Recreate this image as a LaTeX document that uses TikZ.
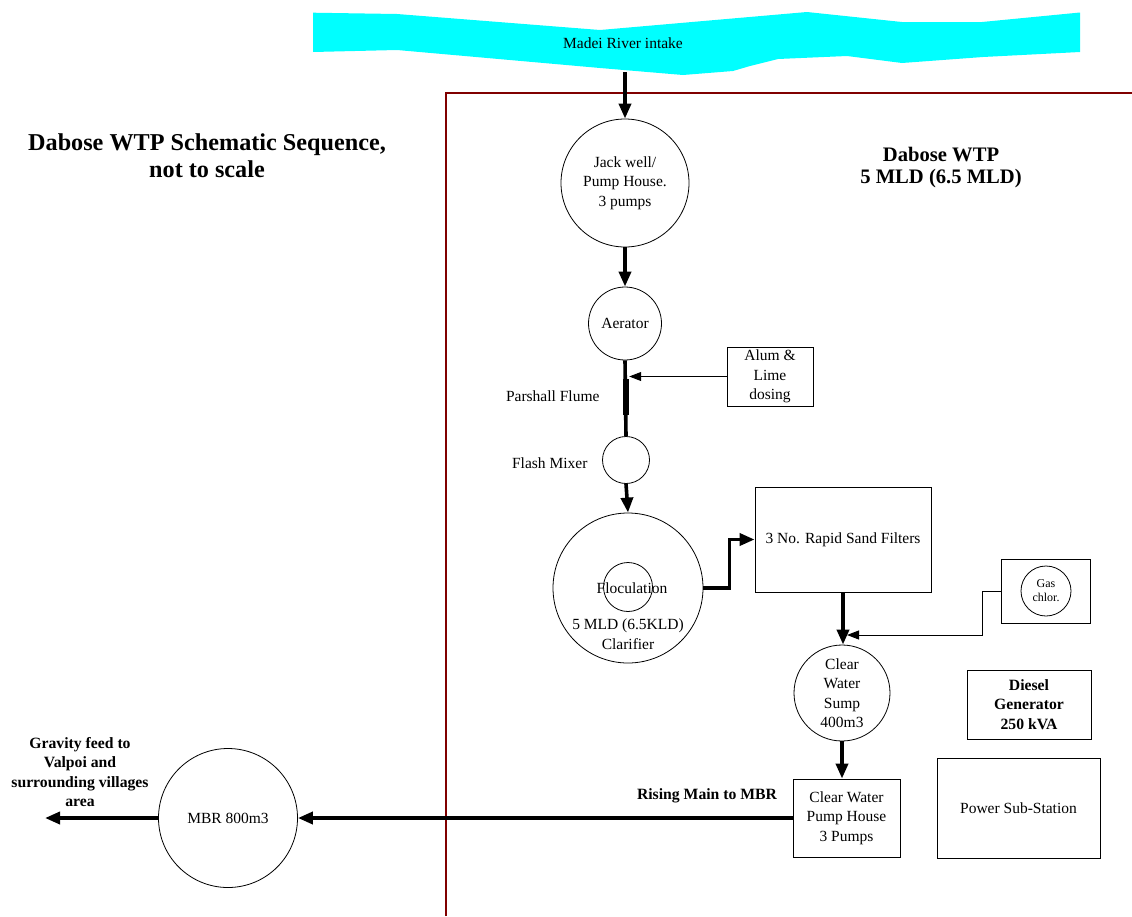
\documentclass[tikz,border=0pt]{standalone}
\usepackage{fontspec}
\setmainfont{Liberation Serif}
\usetikzlibrary{arrows.meta}
\definecolor{rivercyan}{RGB}{0,255,255}
\definecolor{borderred}{RGB}{128,0,0}
\begin{document}
\begin{tikzpicture}[x=1pt,y=-1pt,
  every node/.style={font=\fontsize{15.5}{19.5}\selectfont, align=center},
  unit/.style={circle, draw, line width=0.8pt, inner sep=0pt},
  boxn/.style={rectangle, draw, line width=0.8pt, inner sep=0pt},
  flow/.style={line width=3.6pt, -{Triangle[length=15pt,width=12pt]}},
  thickline/.style={line width=3.6pt},
  feed/.style={line width=0.9pt, -{Triangle[length=12pt,width=9pt]}},
  boldtext/.style={font=\bfseries\fontsize{15.7}{19.5}\selectfont},
]
\useasboundingbox (0,0) rectangle (1132,916);
% river
\fill[rivercyan] (313,12.7) -- (397,14) -- (600,30) -- (807,12) -- (902,22) -- (982,22) -- (1080,12.5)
  -- (1080,52) -- (983,57) -- (902,63) -- (847,56) -- (778,59) -- (750,66) -- (733,71) -- (683,75)
  -- (600,68) -- (397,50) -- (313,52) -- cycle;
\node (river) at (623,43) {Madei River intake};
\coordinate (rivbot) at (625,72);
% plant border
\draw[borderred, line width=2pt] (446,916) -- (446,93) -- (1132,93);
% titles
\node[font=\bfseries\fontsize{24.2}{27}\selectfont] (title) at (207,156) {Dabose WTP Schematic Sequence,\\not to scale};
\node[font=\bfseries\fontsize{20.6}{21.5}\selectfont] (wtp) at (941,167.5) {Dabose WTP\\5 MLD (6.5 MLD)};
% units
\node[unit, minimum size=128pt] (jack) at (625,183) {Jack well/\\Pump House.\\3 pumps};
\node[unit, minimum size=73pt] (aer) at (625,323.5) {Aerator};
\node[unit, minimum size=47pt] (flash) at (626,460) {};
\node[anchor=east] (flashlbl) at (591,463) {Flash Mixer};
\node[rectangle, fill=black, minimum width=6pt, minimum height=36pt, inner sep=0pt] (flume) at (626,397) {};
\node[anchor=east] (flumelbl) at (603,396) {Parshall Flume};
\node[boxn, minimum width=86pt, minimum height=59pt] (alum) at (770,376.5) {Alum \&\\Lime\\dosing};
\node[unit, minimum size=150pt] (clar) at (628,588) {};
\node[unit, minimum size=49pt] (floc) at (628,587) {};
\node (floclbl) at (632,588) {Floculation};
\node (clarlbl) at (628,634) {5 MLD (6.5KLD)\\Clarifier};
\node[boxn, minimum width=176pt, minimum height=105pt] (filt) at (843,539.5) {3 No. Rapid Sand Filters};
\node[boxn, minimum width=89pt, minimum height=64pt] (gasbox) at (1045.5,591) {};
\node[unit, minimum size=50pt, font=\fontsize{12}{14}\selectfont] (gas) at (1046,591) {Gas\\chlor.};
\node[unit, minimum size=96pt] (sump) at (842,693) {Clear\\Water\\Sump\\400m3};
\node[boxn, minimum width=124pt, minimum height=69pt, boldtext] (diesel) at (1029,704.5) {Diesel\\Generator\\250 kVA};
\node[boxn, minimum width=163pt, minimum height=100pt] (power) at (1018.5,808) {Power Sub-Station};
\node[boxn, minimum width=107pt, minimum height=78pt] (pump) at (846.5,818) {Clear Water\\Pump House\\3 Pumps};
\node[unit, minimum size=139pt] (mbr) at (228,818) {MBR 800m3};
\node[boldtext] (rising) at (707,796) {Rising Main to MBR};
\node[boldtext] (grav) at (80,772) {Gravity feed to\\Valpoi and\\surrounding villages\\area};
\coordinate (gout) at (45,818);
\coordinate (gasin) at (847,635);
% connectors
\draw[flow] (rivbot) -- (jack.north);
\draw[flow] (jack.south) -- (aer.north);
\draw[thickline] (aer.south) -- (flash.north);
\draw[feed] (alum.west) -- (alum.west -| flume.east);
\draw[flow] (flash.south) -- (clar.north);
\draw[flow] (clar.east) -- ++(26,0) |- (filt.west);
\draw[flow] (filt.south) -- (filt.south |- sump.north);
\draw[feed] (gasbox.west) -- ++(-18,0) |- (gasin);
\draw[flow] (sump.south) -- (sump.south |- pump.north);
\draw[flow] (pump.west) -- (mbr.east);
\draw[flow] (mbr.west) -- (gout);
\end{tikzpicture}
\end{document}
